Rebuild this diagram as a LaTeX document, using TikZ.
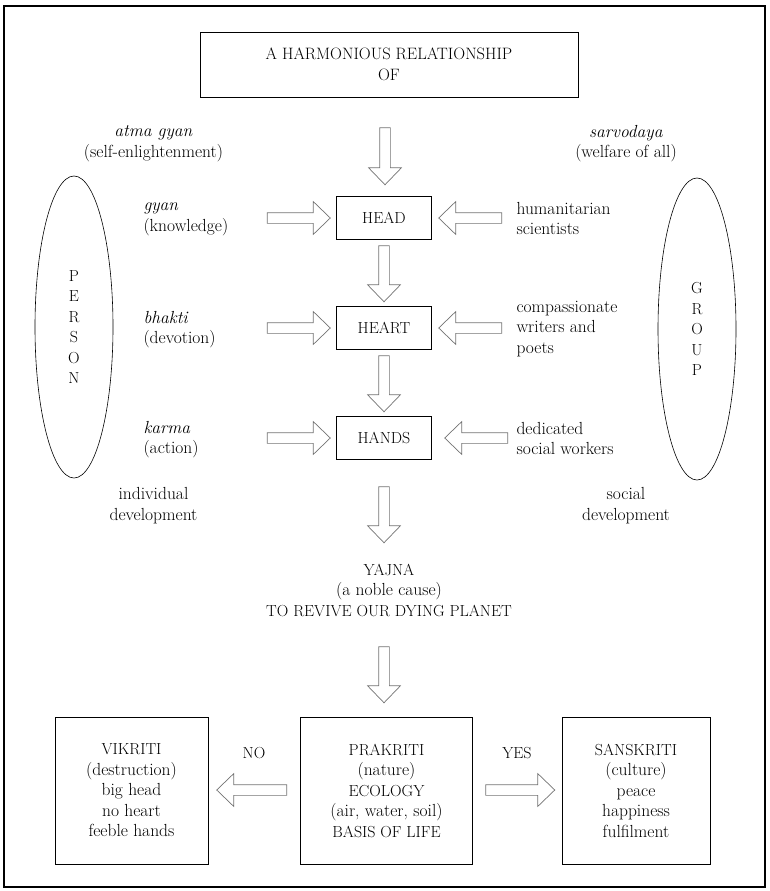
\documentclass[tikz,border=0pt]{standalone}
\usetikzlibrary{shapes.geometric,shapes.arrows,positioning}

\newcommand\capsz{\fontsize{16}{20.5}\selectfont}

\tikzset{
	box/.style={draw, line width=0.9pt, inner sep=0pt, align=center},
	hbox/.style={box, minimum width=95pt, minimum height=43pt, font=\fontsize{16}{20.5}\selectfont},
	txt/.style={align=center, font=\fontsize{17.5}{20.5}\selectfont},
	hollow/.style={single arrow, draw=black!55, fill=white, line width=0.7pt, inner xsep=0pt, inner ysep=5pt,
		minimum width=32pt, single arrow head extend=11pt, single arrow tip angle=88},
	ring/.style={ellipse, draw, line width=0.6pt, inner sep=0pt, align=center,
		minimum width=78pt, minimum height=302pt, font=\capsz}
}

\begin{document}
\begin{tikzpicture}[x=1pt, y=-1pt, txt]
		\useasboundingbox (0,0) rectangle (769,891);
		\draw[line width=1.1pt] (4,6) rectangle (765,887);
		% top
		\node[box, minimum width=378pt, minimum height=65pt, font=\fontsize{16.5}{20.5}\selectfont] (title) at (389,64.5) {A HARMONIOUS RELATIONSHIP\\OF};
		\node[hollow, rotate=-90, minimum height=57pt] (a0) at (385,153.5) {};
		\node (atma) at (153.5,143.5) {\textit{atma gyan}\\(self-enlightenment)};
		\node (sarvo) at (626,143.5) {\textit{sarvodaya}\\(welfare of all)};
		% the three H
		\node[hbox] (head) at (384,218) {HEAD};
		\node[hbox] (heart) at (384,328) {HEART};
		\node[hbox] (hands) at (384,438) {HANDS};
		\node[hollow, rotate=-90, minimum height=56pt] (a1) at (384,271) {};
		\node[hollow, rotate=-90, minimum height=56pt] (a2) at (384,381) {};
		\node[hollow, rotate=-90, minimum height=56pt] (a3) at (384,512) {};
		% person side
		\node[ring] (person) at (74,327) {P\\E\\R\\S\\O\\N};
		\node[align=left, anchor=west] (gyan) at (140,219.5) {\textit{gyan}\\(knowledge)};
		\node[align=left, anchor=west] (bhakti) at (140,329.5) {\textit{bhakti}\\(devotion)};
		\node[align=left, anchor=west] (karma) at (140,439.5) {\textit{karma}\\(action)};
		\node[hollow, minimum height=63pt] (l1) at (296,218) {};
		\node[hollow, minimum height=63pt] (l2) at (296,328) {};
		\node[hollow, minimum height=63pt] (l3) at (296,438) {};
		\node (indiv) at (153.5,505.5) {individual\\development};
		% group side
		\node[ring] (group) at (697,329) {G\\R\\O\\U\\P};
		\node[align=left, anchor=west] (human) at (513,218.5) {humanitarian\\scientists};
		\node[align=left, anchor=west] (compas) at (513,329) {compassionate\\writers and\\poets};
		\node[align=left, anchor=west] (dedic) at (513,438.5) {dedicated\\social workers};
		\node[hollow, rotate=180, minimum height=63pt] (r1) at (473,218) {};
		\node[hollow, rotate=180, minimum height=63pt] (r2) at (473,328) {};
		\node[hollow, rotate=180, minimum height=63pt] (r3) at (479,438) {};
		\node (social) at (626,505.5) {social\\development};
		% yajna
		\node (yajna) at (389,590) {{\capsz YAJNA}\\(a noble cause)\\{\capsz TO REVIVE OUR DYING PLANET}};
		\node[hollow, rotate=-90, minimum height=56pt] (a4) at (384,672) {};
		% bottom row
		\node[box, minimum width=172pt, minimum height=147pt] (prakriti) at (386.5,790.5) {{\capsz PRAKRITI}\\(nature)\\{\capsz ECOLOGY}\\(air, water, soil)\\{\capsz BASIS OF LIFE}};
		\node[box, minimum width=153pt, minimum height=147pt] (vikriti) at (131.5,790.5) {{\capsz VIKRITI}\\(destruction)\\big head\\no heart\\feeble hands};
		\node[box, minimum width=148pt, minimum height=147pt] (sanskriti) at (636,790.5) {{\capsz SANSKRITI}\\(culture)\\peace\\happiness\\fulfilment};
		\node[hollow, rotate=180, minimum height=70pt] (no) at (254.5,790) {};
		\node[hollow, minimum height=69pt] (yes) at (517.5,790) {};
		\node[font=\capsz] (nolab) at (254,753) {NO};
		\node[font=\capsz] (yeslab) at (517,753) {YES};
	\end{tikzpicture}
\end{document}
